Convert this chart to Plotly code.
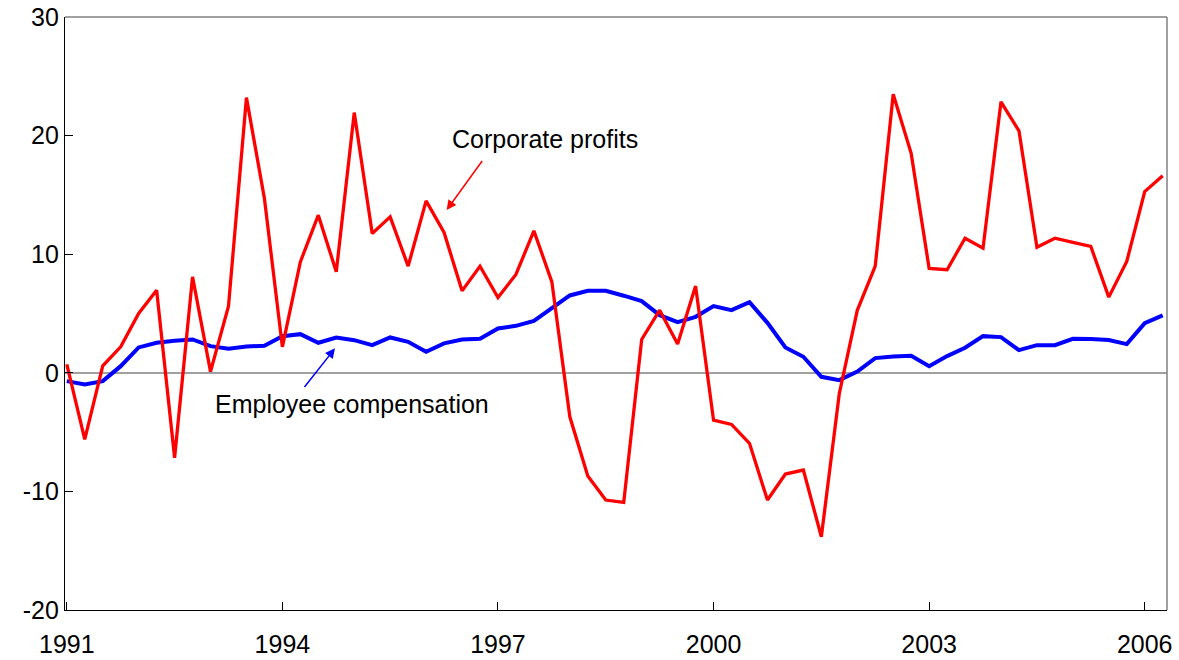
import plotly.graph_objects as go

# Quarterly data, 1991Q1 - 2006Q2 (percent change, annual rate)
start_year = 1991
n_quarters = 62
quarters = [start_year + i / 4 for i in range(n_quarters)]

corporate_profits = [
    0.71, -5.61, 0.59, 2.19, 5.0, 6.97, -7.16, 8.09, 0.1, 5.62,
    23.2, 14.7, 2.19, 9.35, 13.29, 8.51, 21.94, 11.75, 13.15, 8.99,
    14.5, 11.83, 6.91, 8.99, 6.35, 8.29, 11.97, 7.67, -3.71, -8.7,
    -10.73, -10.93, 2.81, 5.28, 2.42, 7.31, -3.99, -4.35, -5.95, -10.73,
    -8.54, -8.2, -13.82, -1.74, 5.27, 9.0, 23.49, 18.5, 8.8, 8.69,
    11.35, 10.51, 22.85, 20.4, 10.59, 11.35, 10.99, 10.65, 6.38, 9.39,
    15.28, 16.62,
]

employee_compensation = [
    -0.7, -0.98, -0.7, 0.56, 2.14, 2.53, 2.7, 2.81, 2.25, 2.02,
    2.22, 2.28, 3.09, 3.26, 2.53, 2.98, 2.75, 2.33, 2.98, 2.61,
    1.77, 2.48, 2.81, 2.87, 3.74, 3.96, 4.38, 5.48, 6.52, 6.91,
    6.91, 6.5, 6.04, 4.86, 4.27, 4.72, 5.62, 5.28, 5.96, 4.21,
    2.14, 1.35, -0.34, -0.62, 0.1, 1.24, 1.38, 1.43, 0.56, 1.41,
    2.11, 3.09, 3.01, 1.91, 2.33, 2.33, 2.87, 2.84, 2.76, 2.42,
    4.19, 4.84,
]

x_tick_vals = [1991, 1994, 1997, 2000, 2003, 2006]
x_tick_text = ["1991", "1994", "1997", "2000", "2003", "2006"]
y_tick_vals = [-20, -10, 0, 10, 20, 30]
y_tick_text = ["-20", "-10", "0", "10", "20", "30"]

FONT = "Liberation Sans, Arial, sans-serif"
FS = 25

fig = go.Figure()
fig.add_trace(go.Scatter(
    x=quarters, y=employee_compensation, mode="lines",
    line=dict(color="#0000FF", width=4), name="Employee compensation",
))
fig.add_trace(go.Scatter(
    x=quarters, y=corporate_profits, mode="lines",
    line=dict(color="#FF0000", width=3.3), name="Corporate profits",
))

fig.update_layout(
    width=1179, height=660,
    margin=dict(l=65, r=12, t=17, b=50),
    paper_bgcolor="white", plot_bgcolor="white",
    showlegend=False,
    font=dict(family=FONT, size=FS, color="black"),
)

fig.update_xaxes(
    range=[1990.975, 2006.31],
    tickmode="array", tickvals=x_tick_vals, ticktext=x_tick_text,
    ticks="inside", ticklen=8, tickwidth=1, tickcolor="black",
    showline=True, linecolor="black", linewidth=1.3,
    showgrid=False, zeroline=False, automargin=False,
    ticklabelstandoff=12, ticklabeloverflow="allow",
    tickfont=dict(family=FONT, size=FS, color="black"),
)
fig.update_yaxes(
    range=[-20, 30],
    tickmode="array", tickvals=y_tick_vals, ticktext=y_tick_text,
    ticks="inside", ticklen=8, tickwidth=1, tickcolor="black",
    showline=True, linecolor="black", linewidth=1.3,
    showgrid=False, automargin=False, ticklabeloverflow="allow",
    zeroline=True, zerolinecolor="#A0A0A0", zerolinewidth=2,
    tickfont=dict(family=FONT, size=FS, color="black"),
)

# top and right frame (gray)
fig.add_shape(type="line", xref="paper", yref="paper", x0=0, x1=1, y0=1, y1=1,
              line=dict(color="#808080", width=1.5))
fig.add_shape(type="line", xref="paper", yref="paper", x0=1, x1=1, y0=0, y1=1,
              line=dict(color="#808080", width=1.5))

# labels
fig.add_annotation(x=1997.661, y=19.75, text="Corporate profits", showarrow=False,
                   xanchor="center", yanchor="middle",
                   font=dict(family=FONT, size=FS, color="black"))
fig.add_annotation(x=1994.975, y=-2.64, text="Employee compensation", showarrow=False,
                   xanchor="center", yanchor="middle",
                   font=dict(family=FONT, size=FS, color="black"))

# arrows
fig.add_annotation(x=1996.286, y=13.72, ax=1996.795, ay=17.99, axref="x", ayref="y",
                   text="", showarrow=True, arrowhead=2, arrowsize=1.3, arrowwidth=1.5,
                   arrowcolor="#FF0000", standoff=0, startstandoff=0)
fig.add_annotation(x=1994.732, y=2.06, ax=1994.291, ay=-1.32, axref="x", ayref="y",
                   text="", showarrow=True, arrowhead=2, arrowsize=1.3, arrowwidth=1.5,
                   arrowcolor="#0000FF", standoff=0, startstandoff=0)

# remove the default 8px page margin so the figure fills the window exactly
fig.write_html(
    "out.html",
    config={"displayModeBar": False},
    post_script="document.body.style.margin='0';document.body.style.overflow='hidden';",
)
